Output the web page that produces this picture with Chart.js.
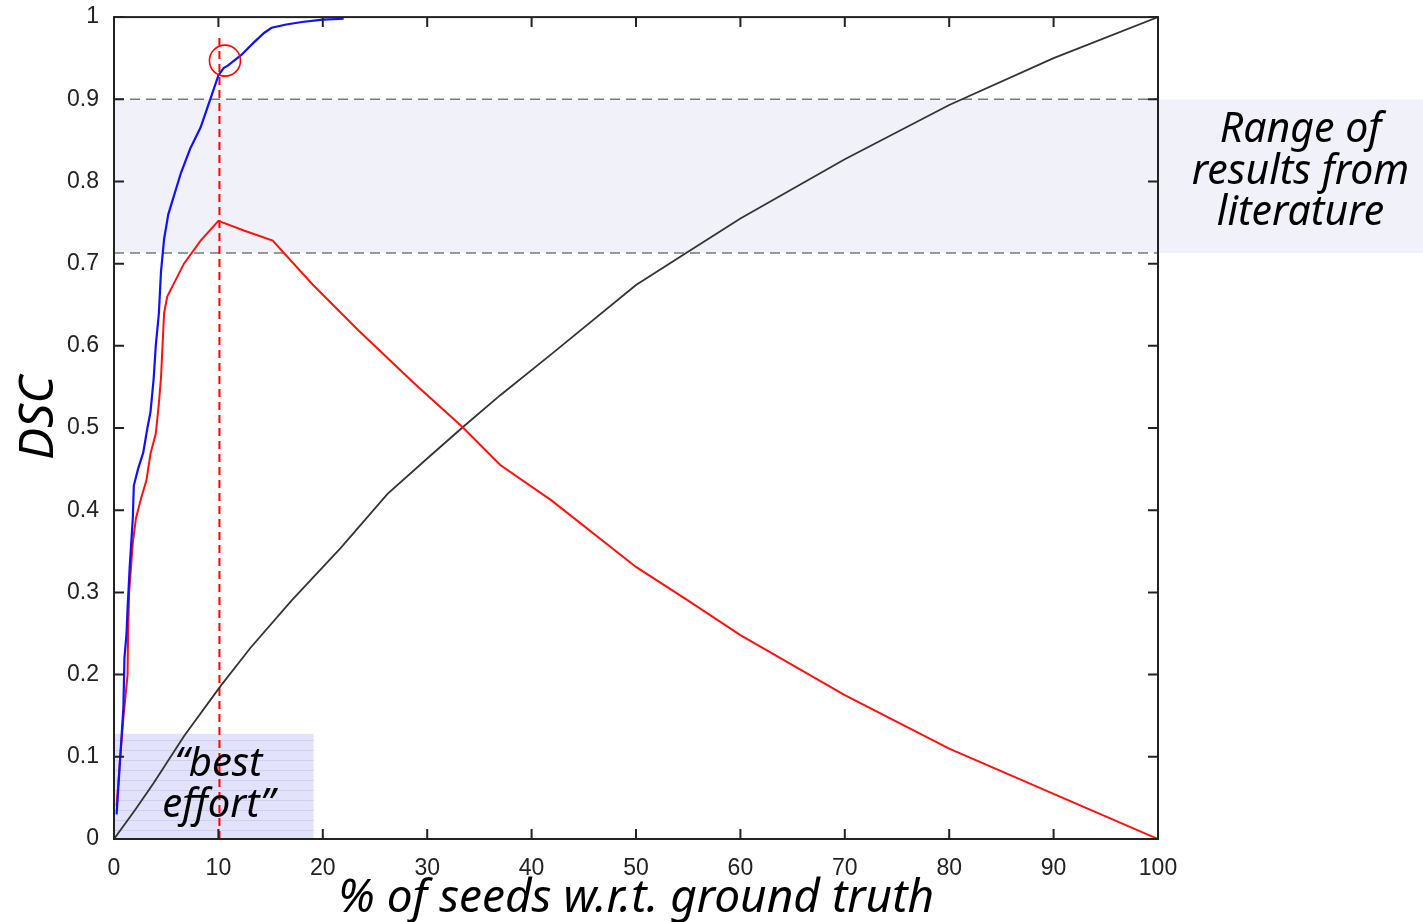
<!DOCTYPE html>
<html><head><meta charset="utf-8">
<script src="https://cdn.jsdelivr.net/npm/chart.js@4/dist/chart.umd.min.js"></script>
<style>html,body{margin:0;padding:0;background:#fff;}#wrap{width:1423px;height:922px;position:relative;}</style>
</head><body><div id="wrap"><canvas id="c"></canvas></div>
<script>
// ---- data ----
const xTicks = [0,10,20,30,40,50,60,70,80,90,100];
const yTicks = [0,0.1,0.2,0.3,0.4,0.5,0.6,0.7,0.8,0.9,1];
const yTickLabels = ['0','0.1','0.2','0.3','0.4','0.5','0.6','0.7','0.8','0.9','1'];

const blueX = [0.25,0.3,0.5,0.7,0.9,1.0,1.2,1.3,1.5,1.8,1.9,2.3,2.8,3.2,3.5,3.8,4.0,4.3,4.5,4.8,5.2,6.4,7.3,8.3,9.3,10.0,10.5,10.9,12.2,13.3,14.4,15.1,16.5,18,20,22];
const blueY = [0.03,0.04,0.08,0.12,0.16,0.22,0.25,0.28,0.33,0.39,0.43,0.45,0.47,0.50,0.52,0.56,0.60,0.64,0.69,0.73,0.76,0.81,0.84,0.866,0.903,0.929,0.938,0.941,0.954,0.968,0.981,0.987,0.991,0.994,0.997,0.998];

const redX = [0.25,0.6,0.9,1.3,1.35,1.45,1.8,2.1,2.6,3.1,3.5,4.0,4.3,4.5,4.8,5.1,6.7,8.3,10.0,12.5,15.2,19,23.4,28.8,33.4,37,41.9,50,55,60,70,80,90,100];
const redY = [0.04,0.10,0.147,0.20,0.25,0.30,0.36,0.39,0.415,0.436,0.469,0.493,0.53,0.561,0.64,0.66,0.70,0.728,0.752,0.74,0.728,0.675,0.619,0.554,0.501,0.455,0.412,0.331,0.29,0.248,0.175,0.110,0.055,0.0];

const blackX = [0,2,3.8,6.7,10.2,13.1,17,21.7,26.2,30,33.4,37,41.9,50,54.8,60,70,80,90,100];
const blackY = [0,0.035,0.068,0.125,0.186,0.233,0.29,0.354,0.42,0.463,0.501,0.54,0.59,0.674,0.713,0.755,0.827,0.893,0.95,1.0];

const bestX = [10.1, 10.1];
const bestY = [0, 0.975];
const circleX = [10.63];
const circleY = [0.947];
const rangeBand = [0.713, 0.9];          // DSC range from literature
const bestBand = [0, 19.1, 0, 0.128];    // x0, x1, y0, y1
const rangeText = ['Range of', 'results from', 'literature'];
const rangeTextY = [0.862, 0.811, 0.761];
const bestText = ['\u201Cbest', 'effort\u201D'];
const bestTextY = [0.091, 0.041];
const bestTextX = 10.0;

const pts = (xs, ys) => xs.map((v, i) => ({x: v, y: ys[i]}));

const HAND = '"Noto Sans", sans-serif';

const decor = {
  id: 'decor',
  beforeDatasetsDraw(chart) {
    const {ctx, chartArea: a, scales: {x, y}} = chart;
    ctx.save();
    const r1 = y.getPixelForValue(rangeBand[1]), r0 = y.getPixelForValue(rangeBand[0]);
    ctx.fillStyle = '#F1F1FA';
    ctx.fillRect(a.left, r1, chart.width - a.left, r0 - r1);
    const bx0 = x.getPixelForValue(bestBand[0]), bx1 = x.getPixelForValue(bestBand[1]);
    const by0 = y.getPixelForValue(bestBand[2]), by1 = y.getPixelForValue(bestBand[3]);
    ctx.fillStyle = '#E2E2FA';
    ctx.fillRect(bx0, by1, bx1 - bx0, by0 - by1);
    ctx.strokeStyle = '#CFCFF3';
    ctx.lineWidth = 1;
    for (let yy = by1 + 6; yy < by0; yy += 10) {
      ctx.beginPath(); ctx.moveTo(bx0, Math.round(yy) + 0.5); ctx.lineTo(bx1, Math.round(yy) + 0.5); ctx.stroke();
    }
    ctx.restore();
  },
  afterDatasetsDraw(chart) {
    const {ctx, chartArea: a, scales: {x, y}} = chart;
    ctx.save();
    ctx.strokeStyle = '#222';
    ctx.lineWidth = 2;
    ctx.strokeRect(a.left, a.top, a.right - a.left, a.bottom - a.top);
    const tl = 10;
    ctx.beginPath();
    xTicks.forEach(v => {
      const px = x.getPixelForValue(v);
      ctx.moveTo(px, a.bottom); ctx.lineTo(px, a.bottom - tl);
      ctx.moveTo(px, a.top); ctx.lineTo(px, a.top + tl);
    });
    yTicks.forEach(v => {
      const py = y.getPixelForValue(v);
      ctx.moveTo(a.left, py); ctx.lineTo(a.left + tl, py);
      ctx.moveTo(a.right, py); ctx.lineTo(a.right - tl, py);
    });
    ctx.stroke();
    ctx.fillStyle = '#000';
    ctx.textAlign = 'center';
    ctx.textBaseline = 'middle';
    ctx.font = 'italic 41px ' + HAND;
    const rx = a.right + (chart.width - a.right) / 2 + 10;
    rangeText.forEach((t, i) => ctx.fillText(t, rx, y.getPixelForValue(rangeTextY[i])));
    ctx.font = 'italic 40px ' + HAND;
    bestText.forEach((t, i) => ctx.fillText(t, x.getPixelForValue(bestTextX), y.getPixelForValue(bestTextY[i])));
    ctx.restore();
  }
};

new Chart(document.getElementById('c'), {
  type: 'scatter',
  data: {
    datasets: [
      {data: pts(circleX, circleY), showLine: false, pointRadius: 15.5, pointBorderColor: '#ff0000', pointBackgroundColor: 'rgba(0,0,0,0)', pointBorderWidth: 1.6, order: 0},
      {data: pts(blueX, blueY), showLine: true, borderColor: '#1010ff', borderWidth: 2.2, pointRadius: 0, tension: 0, order: 1},
      {data: pts(redX, redY), showLine: true, borderColor: '#ff1010', borderWidth: 2, pointRadius: 0, tension: 0, order: 2},
      {data: pts(blackX, blackY), showLine: true, borderColor: '#333', borderWidth: 1.8, pointRadius: 0, tension: 0, order: 3},
      {data: pts(bestX, bestY), showLine: true, borderColor: '#ff0000', borderWidth: 2, borderDash: [8, 5], pointRadius: 0, order: 4},
      {data: pts([0, 100], [rangeBand[1], rangeBand[1]]), showLine: true, borderColor: '#7a7a7a', borderWidth: 1.5, borderDash: [10, 6], pointRadius: 0, order: 5},
      {data: pts([0, 100], [rangeBand[0], rangeBand[0]]), showLine: true, borderColor: '#7a7a7a', borderWidth: 1.5, borderDash: [10, 6], pointRadius: 0, order: 6}
    ]
  },
  options: {
    responsive: true,
    maintainAspectRatio: false,
    animation: false,
    events: [],
    layout: {padding: {left: 0, right: 265, top: 17, bottom: 0}},
    plugins: {legend: {display: false}, tooltip: {enabled: false}},
    scales: {
      x: {
        type: 'linear', min: 0, max: 100,
        grid: {display: false}, border: {display: false},
        afterBuildTicks: s => { s.ticks = xTicks.map(v => ({value: v})); },
        afterFit: s => { s.height = 83; s.paddingLeft = 0; s.paddingRight = 0; },
        ticks: {font: {family: '"Liberation Sans", Arial, sans-serif', size: 23}, color: '#222', padding: 8, maxRotation: 0, autoSkip: false,
                callback: v => String(v)},
        title: {display: true, text: '% of seeds w.r.t. ground truth', color: '#000',
                font: {family: HAND, size: 46, style: 'italic'}, padding: {top: 0, bottom: -4}}
      },
      y: {
        type: 'linear', min: 0, max: 1,
        grid: {display: false}, border: {display: false},
        afterBuildTicks: s => { s.ticks = yTicks.map(v => ({value: v})); },
        afterFit: s => { s.width = 114; s.paddingTop = 0; s.paddingBottom = 0; },
        ticks: {font: {family: '"Liberation Sans", Arial, sans-serif', size: 23}, color: '#222', padding: 7, autoSkip: false,
                callback: (v) => { const i = yTicks.findIndex(t => Math.abs(t - v) < 1e-9); return i >= 0 ? yTickLabels[i] : ''; }},
        title: {display: true, text: ' \u2009DSC', color: '#000',
                font: {family: HAND, size: 48, style: 'italic'}, padding: {top: 11, bottom: 0}}
      }
    }
  },
  plugins: [decor]
});
</script>
</body></html>
